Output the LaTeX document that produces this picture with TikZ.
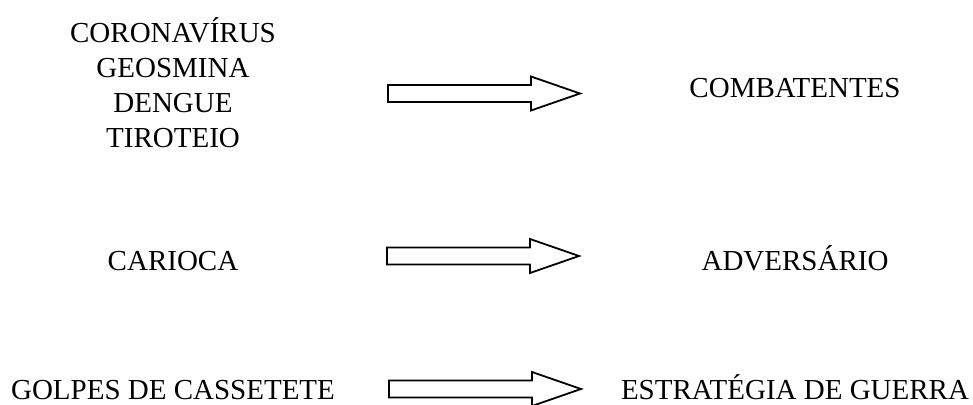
\documentclass[tikz,border=0pt]{standalone}
\usepackage{fontspec}
\setmainfont{Liberation Serif}
\begin{document}
\begin{tikzpicture}[x=1pt,y=-1pt,
  lbl/.style={font={\fontsize{29}{35}\selectfont}, inner sep=0pt, anchor=base, align=center},
  arrowline/.style={draw=black, line width=1.8pt, fill=white, line join=miter},
  blockarrow/.pic={\draw[arrowline] (0,-8.5) -- (143,-8.5) -- (143,-17) -- (192,0) -- (143,17) -- (143,8.5) -- (0,8.5) -- cycle;}]
\useasboundingbox (0,0) rectangle (973,404);
% left column
\node[lbl] (src1) at (173,147) {CORONAVÍRUS\\GEOSMINA\\DENGUE\\TIROTEIO};
\node[lbl] (src2) at (173,270) {CARIOCA};
\node[lbl] (src3) at (173,399) {GOLPES DE CASSETETE};
% right column
\node[lbl] (dst1) at (795,97) {COMBATENTES};
\node[lbl] (dst2) at (795,270) {ADVERSÁRIO};
\node[lbl] (dst3) at (795,399) {ESTRATÉGIA DE GUERRA};
% block arrows
\pic (a1) at (388,93.5) {blockarrow};
\pic (a2) at (387,256) {blockarrow};
\pic (a3) at (389,389) {blockarrow};
\end{tikzpicture}
\end{document}
